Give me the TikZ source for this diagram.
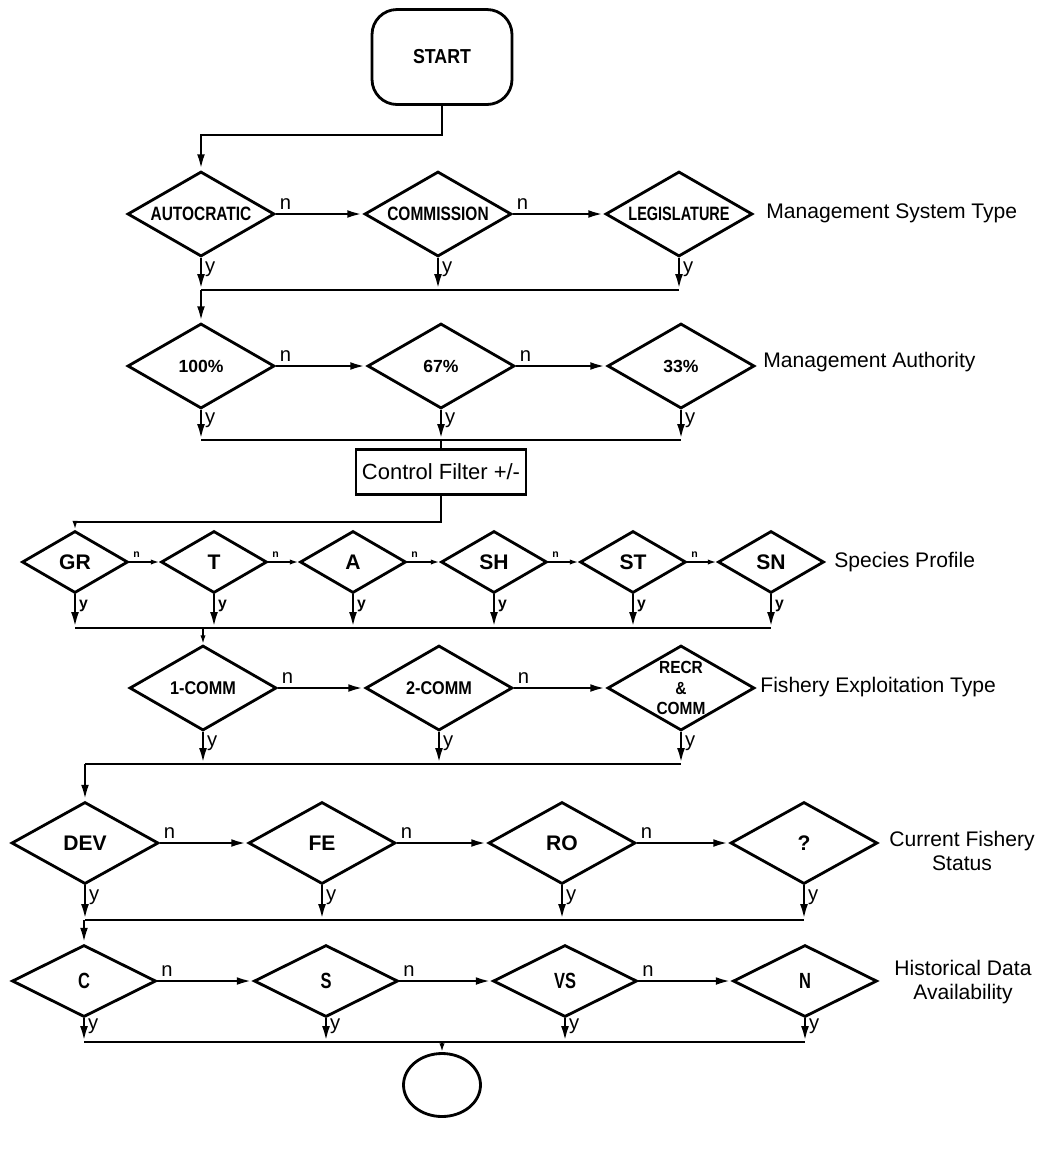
\documentclass[tikz,border=0pt]{standalone}
\usepackage{fontspec}
\setmainfont{Liberation Sans}
\usepackage{graphicx}
\usepackage{tikz}
\usetikzlibrary{shapes.geometric, arrows.meta}
\newcommand{\squeeze}[2][0.88]{\scalebox{#1}[1]{#2}}

\begin{document}
\begin{tikzpicture}[x=0.02cm, y=-0.02cm, line width=1.6pt,
    arr/.style={-{Latex[length=9pt,width=4.4pt]}},
    arrsmall/.style={-{Latex[length=5pt,width=3pt]}},
    choice/.style={diamond, aspect=1.75, draw, inner sep=0pt, minimum width=2.94cm,
      minimum height=1.7cm, font=\bfseries\fontsize{11}{12}\selectfont},
    rowlabel/.style={anchor=west, inner sep=0pt, font=\fontsize{12}{14}\selectfont},
    ylab/.style={right, pos=0.35, inner sep=1.5pt, font=\fontsize{11.5}{12}\selectfont},
    nlab/.style={pos=0, anchor=south west, inner sep=1.5pt, font=\fontsize{11.5}{12}\selectfont}]
  \useasboundingbox (0,0) rectangle (1052,1163);

  \coordinate (k1) at (0,135);
  \coordinate (bus1) at (0,290);
  \coordinate (bus2) at (0,440);
  \coordinate (k3) at (0,522);
  \coordinate (bus3) at (0,628);
  \coordinate (bus4) at (0,764);
  \coordinate (bus5) at (0,920);
  \coordinate (bus6) at (0,1042);

  \node[draw, rounded corners=0.5cm, minimum width=2.8cm, minimum height=1.9cm,
    font=\bfseries\fontsize{11.5}{12}\selectfont] (start) at (442,57) {\squeeze{START}};

  % row 1
  \node[choice] (aut) at (201,214) {\squeeze[0.8]{AUTOCRATIC}};
  \node[choice] (com) at (438,214) {\squeeze[0.8]{COMMISSION}};
  \node[choice] (leg) at (679,214) {\squeeze[0.75]{LEGISLATURE}};
  \node[rowlabel] (lab1) at (765,213) {Management System Type};

  % row 2
  \node[choice, font=\bfseries\fontsize{10}{11}\selectfont] (p100) at (201,366) {100\%};
  \node[choice, font=\bfseries\fontsize{10}{11}\selectfont] (p67) at (441,366) {67\%};
  \node[choice, font=\bfseries\fontsize{10}{11}\selectfont] (p33) at (681,366) {33\%};
  \node[rowlabel] (lab2) at (762,362) {Management Authority};
  \node[draw, minimum width=3.4cm, minimum height=0.9cm, inner sep=1pt,
    font=\fontsize{12.5}{14}\selectfont] (ctrl) at (441,472) {Control Filter +/-};

  % row 3
  \tikzset{spec/.style={choice, minimum width=2.12cm, minimum height=1.24cm,
      font=\bfseries\fontsize{12}{13}\selectfont}}
  \node[spec] (gr) at (75,562) {GR};
  \node[spec] (t) at (214,562) {T};
  \node[spec] (a) at (353,562) {A};
  \node[spec] (sh) at (494,562) {SH};
  \node[spec] (st) at (633,562) {ST};
  \node[spec] (sn) at (771,562) {SN};
  \node[rowlabel] (lab3) at (833,562) {Species Profile};

  % row 4
  \node[choice, font=\bfseries\fontsize{10.5}{11}\selectfont] (c1) at (203,688) {\squeeze{1-COMM}};
  \node[choice, font=\bfseries\fontsize{10.5}{11}\selectfont] (c2) at (439,688) {\squeeze{2-COMM}};
  \node[choice, align=center, font=\bfseries\fontsize{10}{11.5}\selectfont] (rc) at (681,688)
    {\squeeze{RECR}\\\squeeze{\&}\\\squeeze{COMM}};
  \node[rowlabel] (lab4) at (759,687) {Fishery Exploitation Type};

  % row 5
  \node[choice, minimum height=1.64cm, font=\bfseries\fontsize{12}{13}\selectfont] (dev) at (85,843) {DEV};
  \node[choice, minimum height=1.64cm, font=\bfseries\fontsize{12}{13}\selectfont] (fe) at (322,843) {FE};
  \node[choice, minimum height=1.64cm, font=\bfseries\fontsize{12}{13}\selectfont] (ro) at (562,843) {RO};
  \node[choice, minimum height=1.64cm, font=\bfseries\fontsize{12}{13}\selectfont] (q) at (804,843) {?};
  \node[rowlabel, anchor=center, align=center] (lab5) at (962,851) {Current Fishery\\Status};

  % row 6
  \node[choice, minimum width=2.88cm, minimum height=1.44cm, font=\bfseries\fontsize{12.5}{13}\selectfont] (c) at (84,981) {\squeeze[0.75]{C}};
  \node[choice, minimum width=2.88cm, minimum height=1.44cm, font=\bfseries\fontsize{12.5}{13}\selectfont] (s) at (326,981) {\squeeze[0.75]{S}};
  \node[choice, minimum width=2.88cm, minimum height=1.44cm, font=\bfseries\fontsize{12.5}{13}\selectfont] (vs) at (565,981) {\squeeze[0.75]{VS}};
  \node[choice, minimum width=2.88cm, minimum height=1.44cm, font=\bfseries\fontsize{12.5}{13}\selectfont] (nn) at (805,981) {\squeeze[0.75]{N}};
  \node[rowlabel, anchor=center, align=center] (lab6) at (963,982) {Historical Data\\Availability};

  \node[draw, ellipse, minimum width=1.54cm, minimum height=1.26cm] (stop) at (442,1085) {};

  % no branches
  \foreach \p/\q in {aut/com, com/leg, p100/p67, p67/p33, c1/c2, c2/rc,
      dev/fe, fe/ro, ro/q, c/s, s/vs, vs/nn}
    \draw[arr] (\p.east) -- node[nlab]{n} (\q.west);
  \foreach \p/\q in {gr/t, t/a, a/sh, sh/st, st/sn}
    \draw[arrsmall] (\p.east) -- node[nlab, font=\bfseries\fontsize{6}{7}\selectfont]{n} (\q.west);

  % yes branches
  \foreach \d in {aut, com, leg}
    \draw[arr] (\d.south) -- node[ylab]{y} (\d.south |- bus1);
  \foreach \d in {p100, p67, p33}
    \draw[arr] (\d.south) -- node[ylab]{y} (\d.south |- bus2);
  \foreach \d in {gr, t, a, sh, st, sn}
    \draw[arr] (\d.south) -- node[ylab, font=\bfseries\fontsize{9}{10}\selectfont]{y} (\d.south |- bus3);
  \foreach \d in {c1, c2, rc}
    \draw[arr] (\d.south) -- node[ylab]{y} (\d.south |- bus4);
  \foreach \d in {dev, fe, ro, q}
    \draw[arr] (\d.south) -- node[ylab]{y} (\d.south |- bus5);
  \foreach \d in {c, s, vs, nn}
    \draw[arr] (\d.south) -- node[ylab]{y} (\d.south |- bus6);

  % collecting lines and entries
  \draw[arr] (start.south) |- (aut.north |- k1) -- (aut.north);
  \draw (aut.south |- bus1) -- (leg.south |- bus1);
  \draw[arr] (aut.south |- bus1) -- (p100.north);
  \draw (p100.south |- bus2) -- (p33.south |- bus2);
  \draw (p67.south |- bus2) -- (ctrl.north);
  \draw[arrsmall] (ctrl.south) |- (gr.north |- k3) -- (gr.north);
  \draw (gr.south |- bus3) -- (sn.south |- bus3);
  \draw[arrsmall] (c1.north |- bus3) -- (c1.north);
  \draw (dev.north |- bus4) -- (rc.south |- bus4);
  \draw[arr] (dev.north |- bus4) -- (dev.north);
  \draw (dev.south |- bus5) -- (q.south |- bus5);
  \draw[arr] (c.north |- bus5) -- (c.north);
  \draw (c.south |- bus6) -- (nn.south |- bus6);
  \draw[arrsmall] (stop.north |- bus6) -- (stop.north);
\end{tikzpicture}
\end{document}
